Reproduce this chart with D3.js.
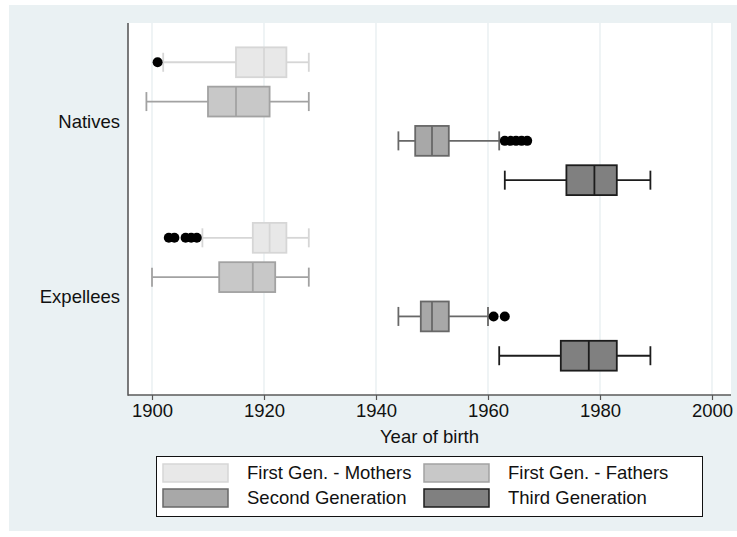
<!DOCTYPE html>
<html><head><meta charset="utf-8">
<script src="https://cdn.jsdelivr.net/npm/d3@7"></script>
<style>body{margin:0;background:#fff;}svg{display:block;font-family:"Liberation Sans",Arial,sans-serif;}</style>
</head><body><svg id="c" width="737" height="537"></svg>
<script>
const groups = ["Natives", "Expellees"];
const series = ["First Gen. - Mothers", "First Gen. - Fathers", "Second Generation", "Third Generation"];
const xTicks = [1900, 1920, 1940, 1960, 1980, 2000];
// [whiskerLow, q1, median, q3, whiskerHigh]
const nativesStats = [[1902,1915,1920,1924,1928],[1899,1910,1915,1921,1928],[1944,1947,1950,1953,1962],[1963,1974,1979,1983,1989]];
const expelleesStats = [[1909,1918,1921,1924,1928],[1900,1912,1918,1922,1928],[1944,1948,1950,1953,1960],[1962,1973,1978,1983,1989]];
const nativesOutliers = [[1901],[],[1963,1964,1965,1966,1967],[]];
const expelleesOutliers = [[1903,1904,1906,1907,1908],[],[1961,1963],[]];
const fills = ["#e8e8e8","#c8c8c8","#a8a8a8","#808080"];
const strokes = ["#d6d6d6","#a2a2a2","#686868","#1c1c1c"];

const FS = 18.5;
const svg = d3.select("#c");
svg.append("rect").attr("x",9).attr("y",5).attr("width",728).attr("height",526).attr("fill","#eaf1f3");
const L=128,R=731,T=23,B=395;
svg.append("rect").attr("x",L).attr("y",T).attr("width",R-L).attr("height",B-T).attr("fill","#fff");

const x = d3.scaleLinear().domain([1900,2000]).range([152,712]);
const gy = d3.scalePoint().domain(groups).range([T,B]).padding(0.5595);
const iy = d3.scaleBand().domain(series).range([-78.6,78.6]).paddingInner(0.24).paddingOuter(0.12);
const bw = iy.bandwidth();

// grid
svg.append("g").selectAll("line").data(xTicks).join("line")
  .attr("x1",d=>x(d)).attr("x2",d=>x(d)).attr("y1",T).attr("y2",B)
  .attr("stroke","#e4ecee").attr("stroke-width",1.2);

const data = [];
groups.forEach((g,gi)=>{
  const st = gi===0?nativesStats:expelleesStats;
  const ou = gi===0?nativesOutliers:expelleesOutliers;
  series.forEach((s,si)=>{
    data.push({g,s,si,v:st[si],out:ou[si],cy:gy(g)+iy(s)+bw/2});
  });
});

const box = svg.append("g").selectAll("g").data(data).join("g");
const capH = 9.5;
box.append("line").attr("x1",d=>x(d.v[0])).attr("x2",d=>x(d.v[1])).attr("y1",d=>d.cy).attr("y2",d=>d.cy)
  .attr("stroke",d=>strokes[d.si]).attr("stroke-width",1.8);
box.append("line").attr("x1",d=>x(d.v[3])).attr("x2",d=>x(d.v[4])).attr("y1",d=>d.cy).attr("y2",d=>d.cy)
  .attr("stroke",d=>strokes[d.si]).attr("stroke-width",1.8);
box.append("line").attr("x1",d=>x(d.v[0])).attr("x2",d=>x(d.v[0])).attr("y1",d=>d.cy-capH).attr("y2",d=>d.cy+capH)
  .attr("stroke",d=>strokes[d.si]).attr("stroke-width",1.8);
box.append("line").attr("x1",d=>x(d.v[4])).attr("x2",d=>x(d.v[4])).attr("y1",d=>d.cy-capH).attr("y2",d=>d.cy+capH)
  .attr("stroke",d=>strokes[d.si]).attr("stroke-width",1.8);
box.append("rect").attr("x",d=>x(d.v[1])).attr("width",d=>x(d.v[3])-x(d.v[1]))
  .attr("y",d=>d.cy-bw/2).attr("height",bw)
  .attr("fill",d=>fills[d.si]).attr("stroke",d=>strokes[d.si]).attr("stroke-width",1.8);
box.append("line").attr("x1",d=>x(d.v[2])).attr("x2",d=>x(d.v[2])).attr("y1",d=>d.cy-bw/2).attr("y2",d=>d.cy+bw/2)
  .attr("stroke",d=>strokes[d.si]).attr("stroke-width",1.8);
box.each(function(d){
  d3.select(this).selectAll("circle").data(d.out).join("circle")
    .attr("cx",o=>x(o)).attr("cy",d.cy).attr("r",5).attr("fill","#000");
});

// axes
const xa = svg.append("g").attr("transform",`translate(0,${B})`)
  .call(d3.axisBottom(x).tickValues(xTicks).tickFormat(d3.format("d")).tickSize(5).tickSizeOuter(0));
xa.select(".domain").remove();
xa.selectAll(".tick line").attr("stroke","#555").attr("stroke-width",1.2);
xa.selectAll(".tick text").attr("font-size",FS).attr("fill","#111").attr("y",8).attr("dy","0.75em").attr("font-family","Liberation Sans, Arial, sans-serif");
svg.append("line").attr("x1",L).attr("x2",R).attr("y1",B).attr("y2",B).attr("stroke","#5a5a5a").attr("stroke-width",1.6);
svg.append("line").attr("x1",L).attr("x2",L).attr("y1",T).attr("y2",B+0.8).attr("stroke","#5a5a5a").attr("stroke-width",1.6);

svg.append("g").selectAll("text").data(groups).join("text")
  .attr("x",120).attr("y",d=>gy(d)).attr("dy","0.35em").attr("text-anchor","end")
  .attr("font-size",FS).attr("fill","#111").text(d=>d);

svg.append("text").attr("x",(L+R)/2).attr("y",443).attr("text-anchor","middle")
  .attr("font-size",FS).attr("fill","#111").text("Year of birth");

// legend
const lg = svg.append("g");
lg.append("rect").attr("x",156.5).attr("y",456.5).attr("width",546).attr("height",60)
  .attr("fill","#fff").attr("stroke","#111").attr("stroke-width",1);
const lx = [163, 424], ly = [464, 489];
const li = lg.selectAll("g").data(series).join("g")
  .attr("transform",(d,i)=>`translate(${lx[i%2]},${ly[Math.floor(i/2)]})`);
li.append("rect").attr("x",0).attr("y",0).attr("width",65).attr("height",18)
  .attr("fill",(d,i)=>fills[i]).attr("stroke",(d,i)=>strokes[i]).attr("stroke-width",1.5);
li.append("text").attr("x",84).attr("y",9).attr("dy","0.35em").attr("font-size",FS).attr("fill","#111").text(d=>d);
</script></body></html>
